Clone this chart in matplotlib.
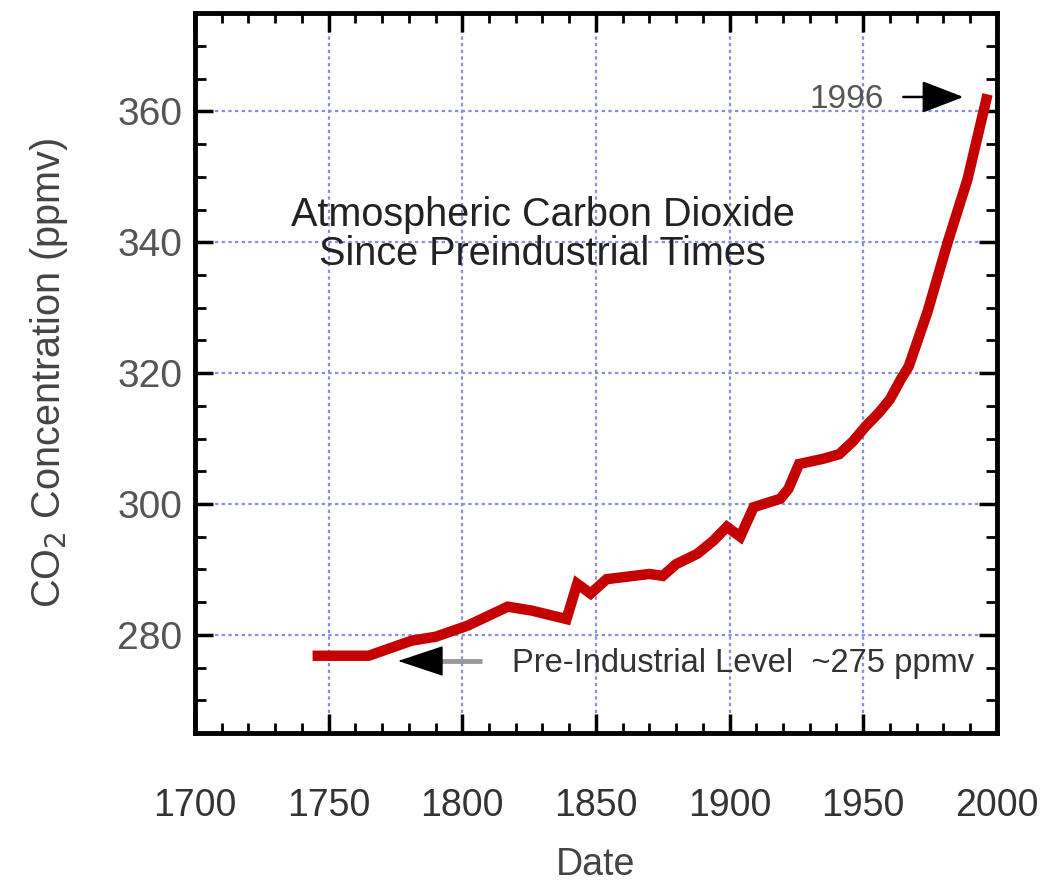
import matplotlib
matplotlib.use('Agg')
import matplotlib.pyplot as plt
from matplotlib.ticker import MultipleLocator

plt.rcParams['font.family'] = ['Liberation Sans', 'DejaVu Sans']

# CO2 record
years = [1744, 1765, 1781, 1790, 1802, 1817, 1826, 1839, 1843, 1848, 1854,
         1870, 1875, 1880, 1888, 1894, 1899, 1904, 1909, 1919, 1922, 1926,
         1935, 1941, 1946, 1951, 1956, 1960, 1964, 1967, 1974, 1981.6, 1989,
         1996.5]
ppm = [276.8, 276.8, 279.1, 279.7, 281.4, 284.3, 283.7, 282.4, 287.8, 286.3,
       288.5, 289.3, 289.0, 290.8, 292.4, 294.4, 296.5, 295.0, 299.5, 300.8,
       302.3, 306.1, 306.9, 307.6, 309.5, 311.9, 314.0, 316.0, 319.0, 321.0,
       329.3, 340.0, 349.6, 362.6]

xticks = [1700, 1750, 1800, 1850, 1900, 1950, 2000]
yticks = [280, 300, 320, 340, 360]

title_text = 'Atmospheric Carbon Dioxide\nSince Preindustrial Times'
pre_text = 'Pre-Industrial Level  ~275 ppmv'
pre_level = 276.0
label_1996 = '1996'

fig = plt.figure(figsize=(10.51, 8.82), dpi=100)
ax = fig.add_axes([0.1855, 0.169, 0.763, 0.816])

ax.plot(years, ppm, color='#c40000', lw=7.5, solid_capstyle='butt',
        solid_joinstyle='miter', zorder=3)

ax.set_xlim(1700, 2000)
ax.set_ylim(265, 375)
ax.set_xticks(xticks)
ax.set_yticks(yticks)
ax.xaxis.set_minor_locator(MultipleLocator(10))
ax.yaxis.set_minor_locator(MultipleLocator(5))

ax.grid(True, which='major', color='#8790dc', lw=1.6, linestyle=(0, (1.5, 1.5)),
        zorder=1)

for s in ax.spines.values():
    s.set_linewidth(3.5)
    s.set_color('black')
    s.set_zorder(5)

ax.tick_params(axis='both', which='both', direction='in', top=True, right=True,
               color='black')
ax.tick_params(axis='x', which='major', length=14, width=2.5, pad=40,
               labelsize=27, labelcolor='#333333')
ax.tick_params(axis='x', which='minor', length=7, width=2)
ax.tick_params(axis='y', which='major', length=13, width=2.5, pad=9,
               labelsize=28, labelcolor='#555555')
ax.tick_params(axis='y', which='minor', length=8, width=2)

ax.set_xlabel('Date', fontsize=27, color='#444444', labelpad=16)
ax.set_ylabel('CO$_2$ Concentration (ppmv)', fontsize=28.5, color='#444444',
              labelpad=34)

ax.text(1830, 341.2, title_text, ha='center', va='center', fontsize=28.5,
        color='#222222', linespacing=1.05, zorder=4)

ax.text(1818.5, 275.6, pre_text, ha='left', va='center', fontsize=23.5,
        color='#333333', zorder=4)
ax.plot([1788, 1807.3], [pre_level, pre_level], color='#999999', lw=3.5,
        solid_capstyle='butt', zorder=4)
ax.annotate('', xy=(1776, pre_level), xytext=(1791.5, pre_level),
            arrowprops=dict(arrowstyle='-|>,head_length=1.5,head_width=0.5',
                            color='black', lw=1, shrinkA=0, shrinkB=0,
                            mutation_scale=20), zorder=4)

ax.text(1943.9, 361.8, label_1996, ha='center', va='center', fontsize=24,
        color='#555555', zorder=4)
ax.annotate('', xy=(1987.5, 362.2), xytext=(1965, 362.2),
            arrowprops=dict(arrowstyle='-|>,head_length=1.3,head_width=0.5',
                            color='black', lw=1.8, shrinkA=0, shrinkB=0,
                            mutation_scale=20), zorder=4)

fig.savefig('out.png', dpi=100)
